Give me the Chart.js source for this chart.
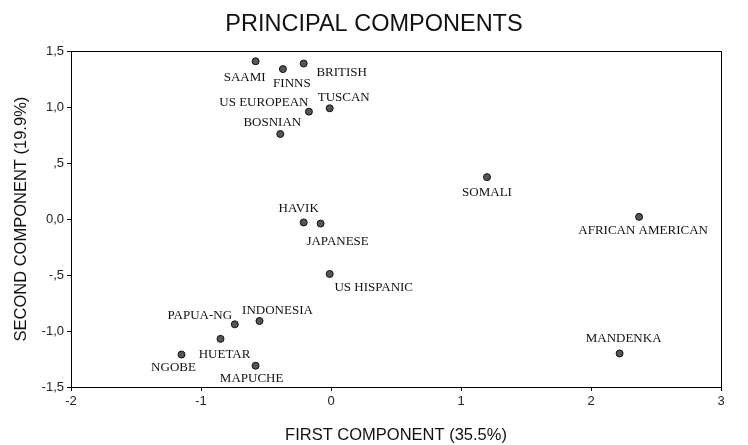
<!DOCTYPE html>
<html>
<head>
<meta charset="utf-8">
<script src="https://cdn.jsdelivr.net/npm/chart.js@4"></script>
<style>
  body { margin:0; background:#fff; }
  #wrap { width:748px; height:445px; }
</style>
</head>
<body>
<div id="wrap"><canvas id="pca" width="748" height="445"></canvas></div>
<script>
// populations and their scores on the first two components
const groups = ['SAAMI','FINNS','BRITISH','US EUROPEAN','TUSCAN','BOSNIAN','SOMALI','AFRICAN AMERICAN',
  'HAVIK','JAPANESE','US HISPANIC','INDONESIA','PAPUA-NG','HUETAR','NGOBE','MAPUCHE','MANDENKA'];
const firstComp  = [-0.58,-0.37,-0.21,-0.17,-0.01,-0.39, 1.20, 2.37,-0.21,-0.08,-0.01,-0.55,-0.74,-0.85,-1.15,-0.58, 2.22];
const secondComp = [ 1.41, 1.34, 1.39, 0.96, 0.99, 0.76, 0.375,0.02,-0.03,-0.04,-0.49,-0.91,-0.94,-1.07,-1.21,-1.31,-1.20];

const xTickValues = [-2,-1,0,1,2,3];
const xTickLabels = ['-2','-1','0','1','2','3'];
const yTickValues = [-1.5,-1,-0.5,0,0.5,1,1.5];
const yTickLabels = ['-1,5','-1,0','-,5','0,0',',5','1,0','1,5'];

// where each name sits relative to its dot (px)
const labelOffset = {
  'SAAMI':[-11,16], 'FINNS':[9,14], 'BRITISH':[38,9], 'US EUROPEAN':[-45,-9], 'TUSCAN':[14,-11],
  'BOSNIAN':[-8,-11], 'SOMALI':[0,15], 'AFRICAN AMERICAN':[4,14], 'HAVIK':[-5,-14], 'JAPANESE':[17,18],
  'US HISPANIC':[44,14], 'INDONESIA':[18,-10], 'PAPUA-NG':[-35,-9], 'HUETAR':[4,16], 'NGOBE':[-8,13],
  'MAPUCHE':[-4,13], 'MANDENKA':[4,-15]
};

const pointLabels = {
  id: 'pointLabels',
  afterDatasetsDraw(chart) {
    const ctx = chart.ctx;
    const meta = chart.getDatasetMeta(0);
    ctx.save();
    ctx.font = '13px "Liberation Serif", "Times New Roman", serif';
    ctx.fillStyle = '#111';
    ctx.textAlign = 'center';
    ctx.textBaseline = 'middle';
    meta.data.forEach((pt, i) => {
      const off = labelOffset[groups[i]] || [0, 14];
      ctx.fillText(groups[i], pt.x + off[0], pt.y + off[1]);
    });
    ctx.restore();
  }
};

const frame = {
  id: 'frame',
  afterDraw(chart) {
    const a = chart.chartArea, ctx = chart.ctx;
    ctx.save();
    ctx.strokeStyle = '#000';
    ctx.lineWidth = 1;
    ctx.strokeRect(Math.round(a.left) + 0.5, Math.round(a.top) + 0.5,
      Math.round(a.right - a.left), Math.round(a.bottom - a.top));
    ctx.restore();
  }
};

const sans = '"Liberation Sans", Arial, sans-serif';

new Chart(document.getElementById('pca'), {
  type: 'scatter',
  data: {
    labels: groups,
    datasets: [{
      data: firstComp.map((x, i) => ({ x, y: secondComp[i] })),
      backgroundColor: '#555',
      borderColor: '#111',
      borderWidth: 1,
      pointRadius: 3.5,
      pointHoverRadius: 3.5
    }]
  },
  options: {
    responsive: false,
    animation: false,
    layout: { padding: { left: 27, right: 27, top: 0, bottom: 0 } },
    plugins: {
      legend: { display: false },
      tooltip: { enabled: false },
      title: {
        display: true,
        text: 'PRINCIPAL COMPONENTS',
        color: '#111',
        font: { family: sans, size: 23.5, weight: 'normal' },
        padding: { top: 10, bottom: 13 }
      }
    },
    scales: {
      x: {
        type: 'linear', min: -2, max: 3,
        afterBuildTicks: s => { s.ticks = xTickValues.map(v => ({ value: v })); },
        afterFit: s => { s.height = 58; },
        ticks: {
          color: '#222', font: { family: sans, size: 13 }, padding: 3, maxRotation: 0,
          callback: v => xTickLabels[xTickValues.indexOf(v)]
        },
        grid: { drawOnChartArea: false, drawTicks: true, tickLength: 4, tickColor: '#000' },
        border: { display: true, color: '#000' },
        title: {
          display: true, text: 'FIRST COMPONENT (35.5%)', color: '#111',
          font: { family: sans, size: 16.5 }, padding: { top: 0, bottom: 0 }
        }
      },
      y: {
        type: 'linear', min: -1.5, max: 1.5,
        afterBuildTicks: s => { s.ticks = yTickValues.map(v => ({ value: v })); },
        afterFit: s => { s.width = 44; },
        ticks: {
          color: '#222', font: { family: sans, size: 13 }, padding: 3,
          callback: v => yTickLabels[yTickValues.indexOf(v)]
        },
        grid: { drawOnChartArea: false, drawTicks: true, tickLength: 4, tickColor: '#000' },
        border: { display: true, color: '#000' },
        title: {
          display: true, text: 'SECOND COMPONENT (19.9%)', color: '#111',
          font: { family: sans, size: 16.5 }, padding: { top: -15, bottom: 0 }
        }
      }
    }
  },
  plugins: [pointLabels, frame]
});
</script>
</body>
</html>
